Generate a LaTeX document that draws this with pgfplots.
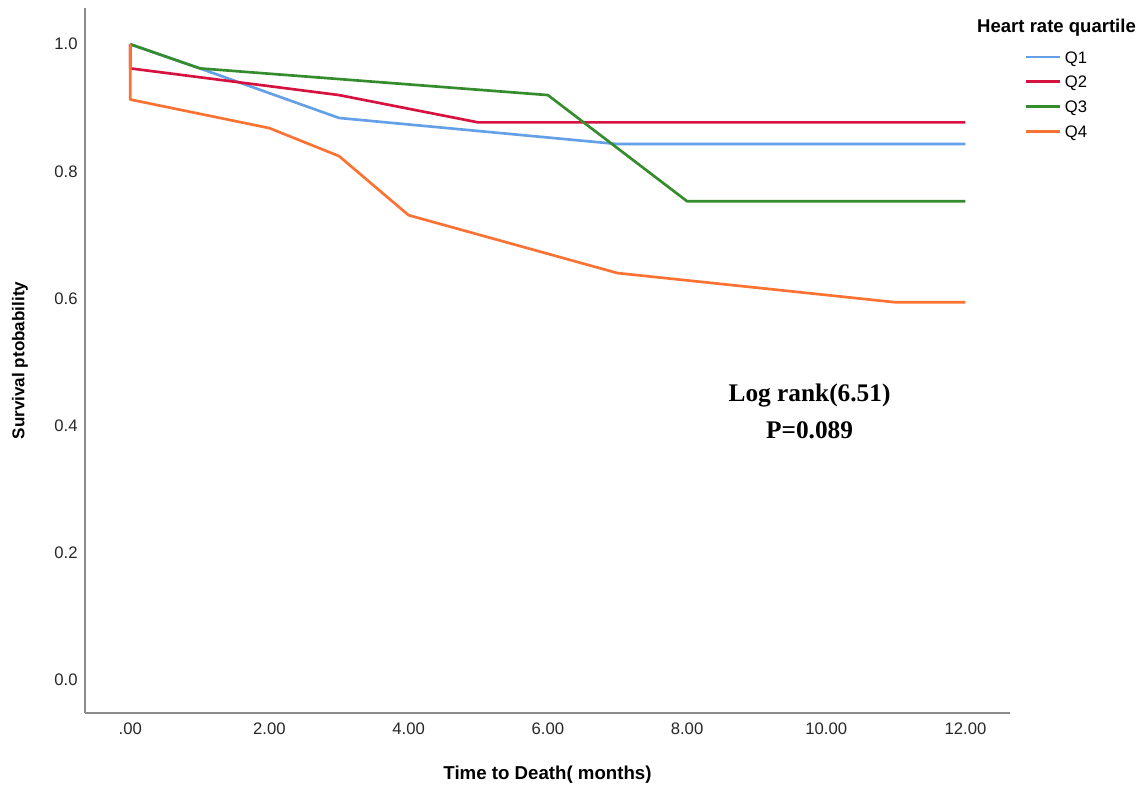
\documentclass[border=0pt]{standalone}
\usepackage{pgfplots}
\pgfplotsset{compat=1.18}
\usepackage{fontspec}
\setmainfont{Liberation Sans}
\newfontfamily\timesfont{Liberation Serif}

% SPSS-like colours
\definecolor{qone}{RGB}{100,160,232}
\definecolor{qtwo}{RGB}{214,18,64}
\definecolor{qthree}{RGB}{52,140,44}
\definecolor{qfour}{RGB}{252,114,50}
\definecolor{axisgray}{RGB}{140,140,140}

\begin{document}
\begin{tikzpicture}
% page = 1139 x 791 px at 0.75pt per px, axis box lower-left at px (85,713)
\useasboundingbox (-63.75pt,-58.5pt) rectangle (790.5pt,534.75pt);
\begin{axis}[
    at={(0pt,0pt)}, anchor=south west,
    scale only axis,
    width=693.75pt, height=528.75pt,
    xmin=-0.65, xmax=12.64,
    ymin=-0.052, ymax=1.057,
    axis x line*=bottom, axis y line*=left,
    axis line style={-, axisgray, line width=1.4pt},
    major tick length=0pt,
    xtick={0,2,4,6,8,10,12},
    xticklabels={.00,2.00,4.00,6.00,8.00,10.00,12.00},
    ytick={0,0.2,0.4,0.6,0.8,1.0},
    yticklabels={0.0,0.2,0.4,0.6,0.8,1.0},
    /pgf/number format/assume math mode=true,
    tick label style={font=\fontsize{12.5}{14}\selectfont, text=black!85},
    xticklabel style={yshift=-4pt},
    yticklabel style={xshift=-2pt},
    xlabel={Time to Death( months)},
    ylabel={Survival ptobability},
    xlabel style={font=\bfseries\fontsize{14}{16}\selectfont,
        at={(axis description cs:0.5,-0.088)}, anchor=center},
    ylabel style={font=\bfseries\fontsize{12.8}{15}\selectfont,
        at={(axis description cs:-0.0703,0.5)}, anchor=center},
    legend style={at={(axis description cs:1.0108,0.945)}, anchor=north west,
        draw=none, fill=none, font=\fontsize{12.5}{14}\selectfont,
        row sep=7.6pt,
        nodes={inner sep=1pt, text height=9pt, text depth=0pt}},
    legend cell align=left,
    legend image code/.code={\draw[#1] (0pt,0pt) -- (26pt,0pt);},
    every axis plot/.append style={line width=2pt, line join=round},
    clip=false,
]
\addplot[qone] coordinates {(0,1) (1,0.962) (3,0.884) (7,0.843) (12,0.843)};
\addlegendentry{\hspace{1.5pt}Q1}
\addplot[qtwo] coordinates {(0,1) (0,0.962) (3,0.920) (5,0.877) (12,0.877)};
\addlegendentry{\hspace{1.5pt}Q2}
\addplot[qthree] coordinates {(0,1) (1,0.962) (6,0.920) (8,0.753) (12,0.753)};
\addlegendentry{\hspace{1.5pt}Q3}
\addplot[qfour] coordinates {(0,1) (0,0.913) (2,0.868) (3,0.824) (4,0.731) (7,0.640) (11,0.594) (12,0.594)};
\addlegendentry{\hspace{1.5pt}Q4}

\node[anchor=west, font=\bfseries\fontsize{13.9}{16}\selectfont, inner sep=0pt]
    at (axis description cs:0.9643,0.9716) {Heart rate quartile};
\node[align=center, font=\timesfont\bfseries\fontsize{19}{27.75}\selectfont]
    at (axis cs:9.76,0.423) {Log rank(6.51)\\P=0.089};
\end{axis}
\end{tikzpicture}
\end{document}
